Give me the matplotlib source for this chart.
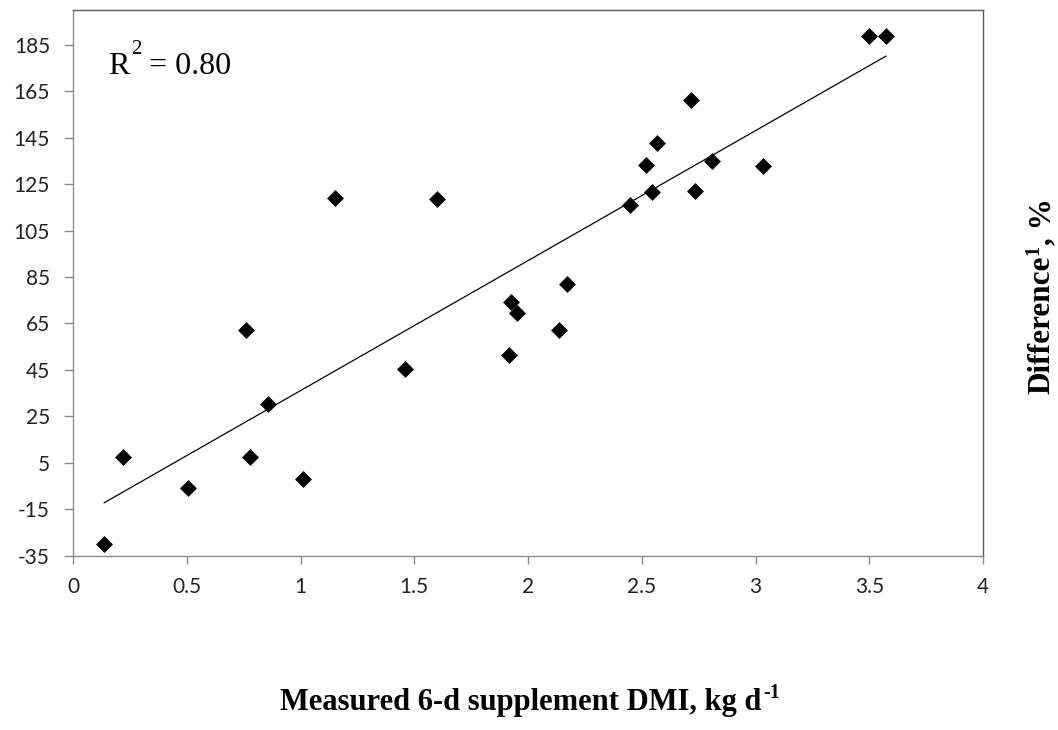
import numpy as np
import matplotlib
matplotlib.use("Agg")
import matplotlib.pyplot as plt

# Data
dmi = [0.137, 0.22, 0.504, 0.778, 1.009, 0.858, 0.760, 1.153, 1.601, 1.458,
       1.925, 1.950, 1.915, 2.171, 2.137, 2.447, 2.547, 2.517, 2.734, 2.810,
       3.033, 2.569, 2.715, 3.497, 3.573]
diff = [-30.0, 7.3, -6.0, 7.3, -2.0, 30.5, 62.3, 119.1, 118.5, 45.6,
        74.2, 69.5, 51.3, 82.1, 62.0, 116.1, 121.8, 133.4, 122.2, 134.8,
        133.0, 142.7, 161.3, 188.9, 188.9]
yticks = [-35, -15, 5, 25, 45, 65, 85, 105, 125, 145, 165, 185]
xticks = [0, 0.5, 1, 1.5, 2, 2.5, 3, 3.5, 4]
xticklabels = ["0", "0.5", "1", "1.5", "2", "2.5", "3", "3.5", "4"]
r2_label = "0.80"

plt.rcParams["axes.unicode_minus"] = False

W, H = 1058, 730
fig = plt.figure(figsize=(W / 100, H / 100), dpi=100)
ax = fig.add_axes([73 / W, 1 - 555.7 / H, (983 - 73) / W, (555.7 - 10) / H])

x = np.array(dmi)
y = np.array(diff)
ax.scatter(x, y, marker="D", s=8.6 ** 2, color="black", zorder=3, linewidths=0)

slope, intercept = np.polyfit(x, y, 1)
xl = np.array([x.min(), x.max()])
ax.plot(xl, slope * xl + intercept, color="black", lw=0.9, zorder=2)

ax.set_xlim(0, 4)
ax.set_ylim(-35, 200)
ax.set_xticks(xticks)
ax.set_xticklabels(xticklabels)
ax.set_yticks(yticks)
ax.set_yticklabels([str(v) for v in yticks])

for s in ["left", "bottom"]:
    ax.spines[s].set_color("#8c8c8c")
    ax.spines[s].set_linewidth(1.0)
for s in ["top", "right"]:
    ax.spines[s].set_color("#5a5a5a")
    ax.spines[s].set_linewidth(1.0)

ax.tick_params(axis="y", direction="out", length=6.5, width=1, color="#8c8c8c",
               pad=10, labelsize=15, labelcolor="#222222")
ax.tick_params(axis="x", direction="out", length=5.5, width=1, color="#8c8c8c",
               pad=10, labelsize=15, labelcolor="#222222")
for lab in ax.get_xticklabels() + ax.get_yticklabels():
    lab.set_fontfamily("Lato")

serif = "Liberation Serif"
fig.canvas.draw()
renderer = fig.canvas.get_renderer()


def width_px(t):
    return t.get_window_extent(renderer).width


# R^2 annotation
t_r = fig.text(108 / W, 1 - 74 / H, "R", fontfamily=serif, fontsize=23,
               ha="left", va="baseline")
wr = width_px(t_r)
t_2 = fig.text((108 + wr + 2) / W, 1 - 54 / H, "2", fontfamily=serif, fontsize=15,
               ha="left", va="baseline")
w2 = width_px(t_2)
fig.text((108 + wr + 2 + w2 + 7) / W, 1 - 74 / H, "= " + r2_label, fontfamily=serif,
         fontsize=23, ha="left", va="baseline")

# x label with superscript
lab_size = 22
sup_size = 14.5
t_main = fig.text(0, 0, "Measured 6-d supplement DMI, kg d", fontfamily=serif,
                  fontweight="bold", fontsize=lab_size, ha="left", va="baseline")
t_sup = fig.text(0, 0, "-1", fontfamily=serif, fontweight="bold", fontsize=sup_size,
                 ha="left", va="baseline")
wm = width_px(t_main)
ws = width_px(t_sup)
total = wm + 1 + ws
x0 = 530 - total / 2
base = 710
t_main.set_position((x0 / W, 1 - base / H))
t_sup.set_position(((x0 + wm + 1) / W, 1 - (base - 12) / H))

# y label (rotated) with superscript
ylab_size = 22.5
t_ym = fig.text(0, 0, "Difference", fontfamily=serif, fontweight="bold",
                fontsize=ylab_size, ha="left", va="baseline", rotation=90,
                rotation_mode="anchor")
t_ys = fig.text(0, 0, "1", fontfamily=serif, fontweight="bold", fontsize=sup_size,
                ha="left", va="baseline", rotation=90, rotation_mode="anchor")
t_ye = fig.text(0, 0, ", %", fontfamily=serif, fontweight="bold",
                fontsize=ylab_size, ha="left", va="baseline", rotation=90,
                rotation_mode="anchor")
hm = t_ym.get_window_extent(renderer).height
hs = t_ys.get_window_extent(renderer).height
he = t_ye.get_window_extent(renderer).height
tot = hm + 1 + hs + he
yb = 296 + tot / 2
bx = 1050
t_ym.set_position((bx / W, 1 - yb / H))
t_ys.set_position(((bx - 12) / W, 1 - (yb - hm - 1) / H))
t_ye.set_position((bx / W, 1 - (yb - hm - 1 - hs) / H))

fig.savefig("out.png", dpi=100)
